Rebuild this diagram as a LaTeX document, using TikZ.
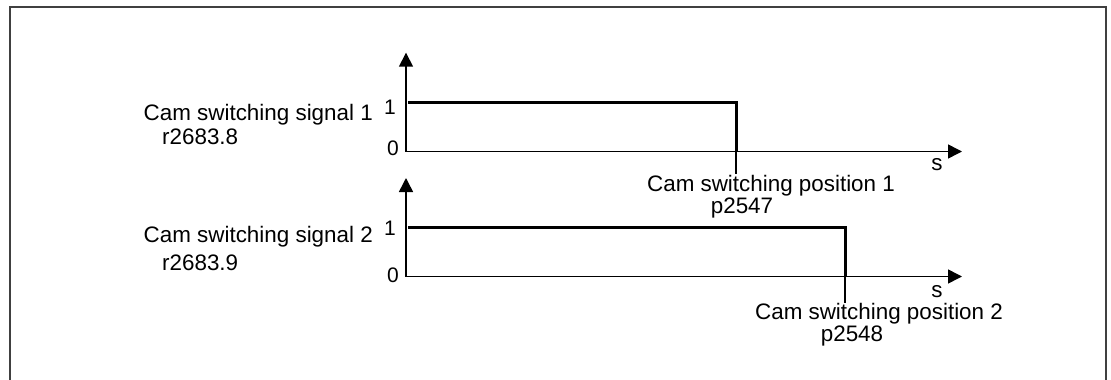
\documentclass[tikz,border=0pt]{standalone}
\usepackage{fontspec}
\setmainfont{Liberation Sans}
\usetikzlibrary{arrows.meta}
\begin{document}
\begin{tikzpicture}[x=1pt,y=-1pt,
  lbl/.style={inner sep=0pt, font=\fontsize{22.4}{24}\selectfont},
  digit/.style={inner sep=0pt, font=\fontsize{21}{22}\selectfont},
  axis/.style={line width=1.5pt, -{Triangle[length=14pt,width=14pt]}},
  thinline/.style={line width=1.5pt},
  sig/.style={line width=3pt, line join=miter},
  frame/.style={line width=2pt, draw=black!75}]
\useasboundingbox (0,0) rectangle (1111,380);
% frame (open at bottom)
\draw[frame] (10,381) -- (10,7.3) -- (1105.7,7.3) -- (1105.7,381);

% ---- upper diagram ----
\coordinate (o1) at (406,151.5);
\coordinate (y1) at (406,52.7);
\coordinate (x1) at (962,151.5);
\coordinate (h1) at (408,102.5);
\coordinate (c1) at (736,102.5);
\coordinate (d1) at (736,151.5);
\coordinate (e1) at (736,174);
\draw[axis] (o1) -- (y1);
\draw[axis] (o1) -- (x1);
\draw[sig] (h1) -- (c1) -- (d1);
\draw[thinline] (d1) -- (e1);
\node[lbl, anchor=base east] (sig1) at (373,120) {Cam switching signal 1};
\node[lbl, anchor=base west] (r1) at (162,144) {r2683.8};
\node[digit, anchor=base east] (one1) at (396,114) {1};
\node[digit, anchor=base east] (zero1) at (399,155) {0};
\node[lbl, anchor=base] (s1) at (937,170) {s};
\node[lbl, anchor=base] (pos1) at (771,191.5) {Cam switching position 1};
\node[lbl, anchor=base] (p1) at (742,213) {p2547};

% ---- lower diagram ----
\coordinate (o2) at (406,276.5);
\coordinate (y2) at (406,178);
\coordinate (x2) at (962,276.5);
\coordinate (h2) at (408,227.7);
\coordinate (c2) at (845,227.7);
\coordinate (d2) at (845,276.5);
\coordinate (e2) at (845,303);
\draw[axis] (o2) -- (y2);
\draw[axis] (o2) -- (x2);
\draw[sig] (h2) -- (c2) -- (d2);
\draw[thinline] (d2) -- (e2);
\node[lbl, anchor=base east] (sig2) at (373,242.7) {Cam switching signal 2};
\node[lbl, anchor=base west] (r2) at (162,270) {r2683.9};
\node[digit, anchor=base east] (one2) at (396,235) {1};
\node[digit, anchor=base east] (zero2) at (399,282) {0};
\node[lbl, anchor=base] (s2) at (937,297.5) {s};
\node[lbl, anchor=base] (pos2) at (879,319.5) {Cam switching position 2};
\node[lbl, anchor=base] (p2) at (852,341.5) {p2548};
\end{tikzpicture}
\end{document}
